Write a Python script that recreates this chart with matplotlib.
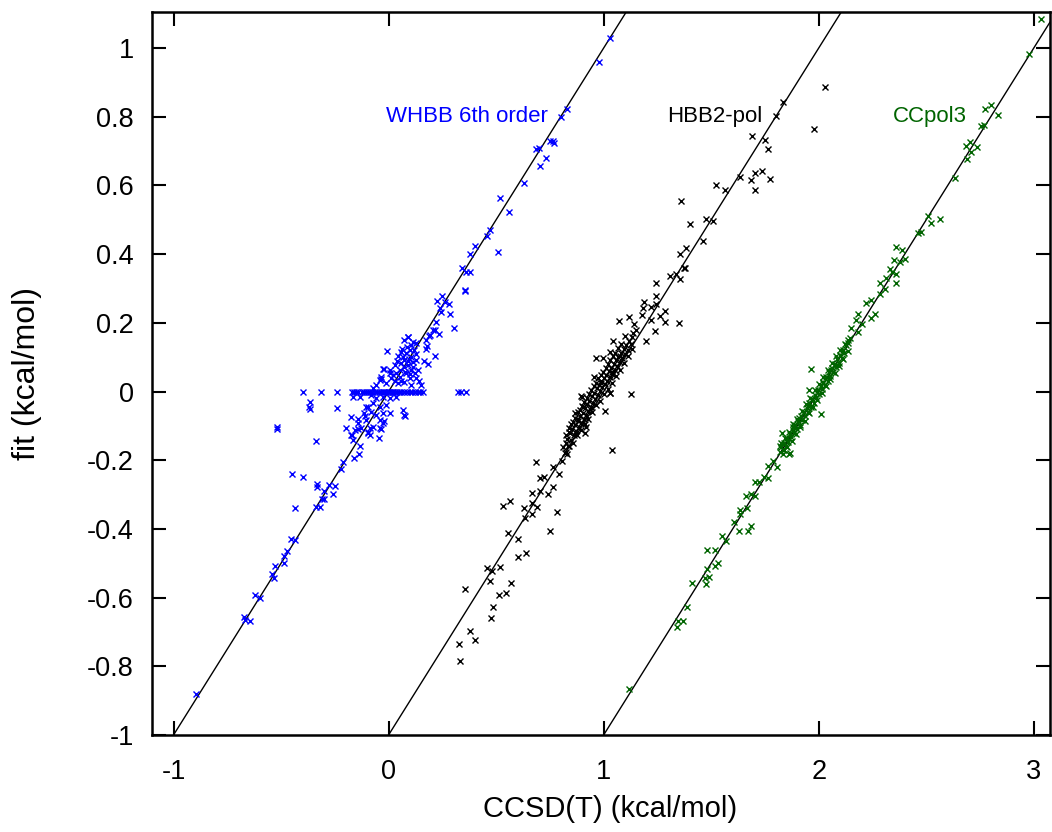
import numpy as np
import matplotlib
matplotlib.use('Agg')
import matplotlib.pyplot as plt

plt.rcParams['font.family'] = ['Liberation Sans', 'DejaVu Sans']

# (CCSD(T), fit) pairs in kcal/mol
whbb = np.array([
    (1.029, 1.030), (0.977, 0.958), (0.831, 0.822), (0.801, 0.799), (0.764, 0.730),
    (0.752, 0.730), (0.771, 0.725), (0.698, 0.710), (0.684, 0.706), (0.733, 0.679),
    (0.704, 0.656), (0.629, 0.607), (0.520, 0.564), (0.560, 0.523), (0.473, 0.469),
    (0.459, 0.454), (0.400, 0.423), (0.380, 0.399), (0.507, 0.405), (0.341, 0.359),
    (0.358, 0.347), (0.377, 0.347), (0.357, 0.295), (0.357, 0.292), (0.223, 0.264),
    (0.247, 0.278), (0.264, 0.260), (0.282, 0.254), (0.240, 0.244), (0.242, 0.232),
    (0.287, 0.226), (0.306, 0.185), (0.219, 0.202), (0.214, 0.179), (0.236, 0.167),
    (0.187, 0.162), (0.175, 0.150), (0.178, 0.132), (0.175, 0.125), (0.217, 0.104),
    (0.167, 0.090), (0.185, 0.079),
    (0.070, 0.150), (0.092, 0.158), (0.113, 0.143), (-0.009, 0.118), (0.098, 0.121),
    (0.127, 0.109), (0.067, 0.101), (-0.022, 0.066), (-0.036, 0.037), (0.005, 0.053),
    (0.059, 0.116), (0.082, 0.111), (0.106, 0.101), (0.074, 0.072), (0.028, 0.077),
    (0.020, 0.048), (0.051, 0.043), (-0.034, 0.043), (0.098, 0.038), (0.113, 0.072),
    (0.136, 0.063), (0.126, 0.092), (0.074, 0.092), (0.059, 0.082), (0.090, 0.077),
    (0.106, 0.063), (0.121, 0.053), (0.129, 0.038), (0.082, 0.053), (0.051, 0.063),
    (0.036, 0.053), (0.005, 0.063), (-0.027, 0.065), (0.012, 0.038), (-0.042, 0.033),
    (-0.011, 0.024), (0.043, 0.024), (0.074, 0.029), (0.106, 0.019), (-0.057, 0.019),
    (-0.073, 0.009), (0.090, 0.160), (0.129, 0.140), (0.191, 0.164), (0.206, 0.179),
    (0.085, 0.130), (0.095, 0.095), (0.063, 0.125), (0.115, 0.085), (0.040, 0.090),
    (0.078, 0.058), (0.100, 0.050), (0.030, 0.030), (0.060, 0.030), (0.140, 0.030),
    (0.150, 0.020), (0.118, 0.122), (0.102, 0.134), (0.088, 0.088), (0.046, 0.102),
    (-0.166, -0.015), (-0.135, -0.017), (-0.080, -0.010), (-0.057, -0.020), (-0.027, -0.015),
    (0.005, -0.020), (0.036, -0.015), (-0.073, -0.034), (-0.096, -0.046), (-0.042, -0.046),
    (-0.011, -0.039), (-0.080, -0.059), (-0.112, -0.063), (-0.057, -0.068), (-0.027, -0.063),
    (0.005, -0.063), (0.067, -0.054), (0.074, -0.068), (0.076, -0.070), (-0.173, -0.073),
    (-0.143, -0.081), (-0.143, -0.093), (-0.104, -0.083), (-0.042, -0.083), (-0.023, -0.087),
    (-0.027, -0.093), (-0.073, -0.102), (-0.096, -0.117), (-0.042, -0.107), (-0.197, -0.107),
    (-0.158, -0.112), (-0.127, -0.107), (-0.173, -0.127), (-0.088, -0.127), (-0.045, -0.136),
    (-0.166, -0.141), (-0.135, -0.159), (-0.138, -0.181), (-0.163, -0.193), (-0.104, -0.044),
    (-0.108, -0.070), (-0.088, -0.107), (-0.036, -0.110), (-0.169, -0.126), (-0.144, -0.110),
    (-0.096, -0.122),
    (-0.367, -0.031), (-0.371, -0.044), (-0.367, -0.051), (-0.239, -0.047), (-0.520, -0.102),
    (-0.520, -0.108), (-0.336, -0.144),
    (-0.213, -0.206), (-0.220, -0.226), (-0.448, -0.239), (-0.399, -0.249), (-0.332, -0.269),
    (-0.332, -0.279), (-0.279, -0.273), (-0.248, -0.276), (-0.298, -0.291), (-0.259, -0.298),
    (-0.310, -0.314), (-0.301, -0.314), (-0.336, -0.337), (-0.318, -0.337), (-0.437, -0.338),
    (-0.456, -0.429), (-0.434, -0.433), (-0.471, -0.463), (-0.487, -0.480), (-0.485, -0.498),
    (-0.529, -0.509), (-0.541, -0.532), (-0.533, -0.542), (-0.622, -0.593), (-0.597, -0.602),
    (-0.673, -0.656), (-0.667, -0.665), (-0.645, -0.667), (-0.894, -0.881),
])
# WHBB points sitting exactly on fit = 0
whbb_zero = [-0.399, -0.313, -0.239, -0.172, -0.160, -0.150, -0.140, -0.125, -0.115,
             -0.105, -0.095, -0.085, -0.075, -0.065, -0.055, -0.045, -0.035, -0.028,
             -0.020, -0.012, -0.005, 0.002, 0.008, 0.015, 0.022, 0.030, 0.040, 0.050,
             0.060, 0.072, 0.085, 0.098, 0.110, 0.122, 0.135, 0.147, 0.158,
             0.321, 0.338, 0.361]

hbb2 = np.array([
    (1.031, 0.886), (0.977, 0.763), (0.834, 0.844), (0.803, 0.802), (0.688, 0.745),
    (0.752, 0.732), (0.766, 0.707), (0.633, 0.626), (0.704, 0.636), (0.735, 0.642),
    (0.684, 0.617), (0.774, 0.620), (0.702, 0.587), (0.522, 0.602), (0.563, 0.586),
    (0.361, 0.554), (0.401, 0.487), (0.476, 0.503), (0.509, 0.495), (0.460, 0.439),
    (0.355, 0.401), (0.383, 0.417), (0.375, 0.360), (0.243, 0.315), (0.310, 0.336),
    (0.338, 0.342), (0.357, 0.328), (0.377, 0.360), (0.245, 0.279), (0.188, 0.261),
    (0.222, 0.247), (0.245, 0.254), (0.183, 0.242), (0.285, 0.234), (0.264, 0.221),
    (0.180, 0.223), (0.220, 0.208), (0.284, 0.201), (0.352, 0.199), (0.116, 0.216),
    (0.070, 0.205), (0.140, 0.196), (0.239, 0.177), (0.195, 0.148), (0.152, 0.179),
    (0.098, 0.162), (0.043, 0.148), (-0.037, 0.098), (-0.005, 0.098), (0.129, -0.007),
    (0.039, -0.169), (-0.045, 0.043), (-0.104, -0.013), (-0.135, -0.063), (-0.161, -0.105),
    (-0.174, -0.151), (0.005, -0.056), (0.028, -0.005), (0.028, 0.116), (0.136, 0.169),
    (-0.099, -0.015), (-0.096, -0.044), (-0.080, -0.102), (-0.088, -0.122), (0.031, -0.005),
    # dense core
    (-0.188, -0.162), (-0.181, -0.178), (-0.172, -0.139), (-0.166, -0.158), (-0.158, -0.121),
    (-0.151, -0.142), (-0.146, -0.109), (-0.139, -0.127), (-0.133, -0.098), (-0.127, -0.114),
    (-0.121, -0.086), (-0.116, -0.102), (-0.109, -0.071), (-0.104, -0.093), (-0.098, -0.062),
    (-0.093, -0.079), (-0.087, -0.048), (-0.081, -0.067), (-0.076, -0.037), (-0.071, -0.058),
    (-0.066, -0.027), (-0.059, -0.044), (-0.054, -0.013), (-0.049, -0.033), (-0.044, -0.004),
    (-0.038, -0.021), (-0.033, 0.009), (-0.027, -0.011), (-0.022, 0.018), (-0.016, 0.002),
    (-0.011, 0.031), (-0.006, 0.012), (0.001, 0.038), (0.006, 0.022), (0.012, 0.049),
    (0.017, 0.031), (0.023, 0.061), (0.029, 0.043), (0.034, 0.069), (0.041, 0.052),
    (0.046, 0.081), (0.052, 0.064), (0.057, 0.092), (0.063, 0.073), (0.069, 0.101),
    (0.074, 0.086), (0.081, 0.113), (0.087, 0.097), (0.093, 0.124), (0.099, 0.108),
    (0.106, 0.136), (0.112, 0.121), (0.119, 0.147), (0.127, 0.139), (0.134, 0.158),
    (-0.062, -0.051), (-0.014, 0.024), (0.038, 0.058), (0.076, 0.104), (-0.118, -0.079),
    (-0.175, -0.128), (-0.162, -0.117), (-0.150, -0.096), (-0.142, -0.088), (-0.131, -0.078),
    (-0.120, -0.061), (-0.111, -0.055), (-0.100, -0.041), (-0.090, -0.030), (-0.078, -0.019),
    (-0.068, -0.006), (-0.057, 0.004), (-0.046, 0.016), (-0.035, 0.026), (-0.024, 0.039),
    (-0.013, 0.047), (-0.002, 0.058), (0.009, 0.069), (0.020, 0.081), (0.031, 0.091),
    (0.044, 0.104), (0.055, 0.113), (0.066, 0.126), (0.079, 0.137),
    (-0.160, -0.160), (-0.143, -0.150), (-0.125, -0.128), (-0.107, -0.113), (-0.089, -0.096),
    (-0.072, -0.080), (-0.052, -0.061), (-0.034, -0.040), (-0.016, -0.027), (0.003, -0.008),
    (0.021, 0.006), (0.040, 0.025), (0.058, 0.046), (0.077, 0.063), (0.095, 0.083),
    (0.114, 0.104), (0.131, 0.124),
    # lower tail
    (-0.177, -0.175), (-0.171, -0.183), (-0.316, -0.204), (-0.236, -0.219), (-0.194, -0.201),
    (-0.208, -0.241), (-0.298, -0.253), (-0.279, -0.250), (-0.332, -0.295), (-0.294, -0.289),
    (-0.236, -0.277), (-0.257, -0.298), (-0.468, -0.332), (-0.436, -0.320), (-0.372, -0.338),
    (-0.333, -0.326), (-0.312, -0.337), (-0.335, -0.357), (-0.366, -0.369), (-0.217, -0.350),
    (-0.248, -0.406), (-0.445, -0.411), (-0.399, -0.430), (-0.397, -0.481), (-0.363, -0.469),
    (-0.543, -0.515), (-0.519, -0.522), (-0.484, -0.510), (-0.530, -0.552), (-0.433, -0.558),
    (-0.643, -0.576), (-0.487, -0.592), (-0.453, -0.588), (-0.514, -0.626), (-0.523, -0.660),
    (-0.622, -0.697), (-0.671, -0.736), (-0.597, -0.723), (-0.668, -0.784),
])

ccpol3 = np.array([
    (1.033, 1.084), (0.978, 0.982), (0.772, 0.822), (0.803, 0.834), (0.834, 0.805),
    (0.753, 0.774), (0.767, 0.776), (0.684, 0.716), (0.702, 0.727), (0.736, 0.713),
    (0.706, 0.696), (0.690, 0.676), (0.633, 0.621), (0.508, 0.511), (0.524, 0.491),
    (0.563, 0.501), (0.462, 0.462), (0.477, 0.465), (0.361, 0.420), (0.385, 0.412),
    (0.350, 0.383), (0.377, 0.378), (0.403, 0.386), (0.333, 0.356), (0.341, 0.349),
    (0.361, 0.342), (0.358, 0.315), (0.284, 0.315), (0.284, 0.284), (0.222, 0.259),
    (0.245, 0.266), (0.264, 0.226), (0.245, 0.213), (0.183, 0.225), (0.175, 0.208),
    (0.183, 0.172), (0.152, 0.184), (0.134, 0.150), (-0.037, 0.066), (0.009, -0.066),
    (-0.047, 0.004), (-0.135, -0.180), (-0.170, -0.122), (-0.173, -0.151), (-0.140, -0.183),
    (-0.161, -0.170), (0.306, 0.298), (0.312, 0.331), (0.203, 0.196), (0.121, 0.138),
    # dense core
    (-0.182, -0.176), (-0.176, -0.162), (-0.168, -0.171), (-0.161, -0.149), (-0.154, -0.158),
    (-0.147, -0.136), (-0.141, -0.147), (-0.134, -0.124), (-0.128, -0.133), (-0.121, -0.111),
    (-0.115, -0.121), (-0.108, -0.098), (-0.102, -0.109), (-0.095, -0.086), (-0.089, -0.097),
    (-0.082, -0.072), (-0.076, -0.084), (-0.069, -0.061), (-0.063, -0.071), (-0.056, -0.047),
    (-0.050, -0.059), (-0.043, -0.034), (-0.037, -0.046), (-0.030, -0.022), (-0.024, -0.032),
    (-0.017, -0.009), (-0.011, -0.019), (-0.004, 0.004), (0.002, -0.006), (0.009, 0.017),
    (0.015, 0.007), (0.022, 0.029), (0.028, 0.020), (0.035, 0.043), (0.041, 0.032),
    (0.048, 0.056), (0.054, 0.045), (0.061, 0.068), (0.067, 0.058), (0.074, 0.081),
    (0.080, 0.071), (0.087, 0.094), (0.093, 0.084), (0.100, 0.107), (0.106, 0.097),
    (0.113, 0.121), (0.119, 0.111), (0.126, 0.134), (0.138, 0.142), (0.144, 0.156),
    (-0.093, -0.078), (-0.052, -0.042), (0.018, 0.024), (0.058, 0.064), (-0.121, -0.102),
    (-0.178, -0.158), (-0.159, -0.135), (-0.139, -0.118), (-0.118, -0.094), (-0.099, -0.079),
    (-0.079, -0.058), (-0.058, -0.036), (-0.039, -0.018), (-0.019, 0.003), (0.001, 0.022),
    (0.021, 0.041), (0.041, 0.062), (0.062, 0.082), (0.081, 0.103), (0.101, 0.122),
    (-0.165, -0.183), (-0.146, -0.162), (-0.126, -0.144), (-0.106, -0.124), (-0.086, -0.104),
    (-0.066, -0.085), (-0.046, -0.063), (-0.026, -0.044), (-0.006, -0.025), (0.014, -0.004),
    (0.034, 0.015), (0.054, 0.036), (0.074, 0.055), (0.094, 0.074), (0.114, 0.096),
    (0.134, 0.117),
    # lower tail
    (-0.213, -0.202), (-0.236, -0.216), (-0.192, -0.219), (-0.255, -0.248), (-0.236, -0.251),
    (-0.296, -0.263), (-0.278, -0.263), (-0.336, -0.304), (-0.313, -0.299), (-0.296, -0.304),
    (-0.333, -0.340), (-0.364, -0.345), (-0.364, -0.357), (-0.395, -0.381), (-0.370, -0.405),
    (-0.328, -0.405), (-0.313, -0.392), (-0.450, -0.420), (-0.429, -0.435), (-0.518, -0.461),
    (-0.484, -0.461), (-0.521, -0.517), (-0.484, -0.507), (-0.468, -0.500), (-0.531, -0.544),
    (-0.508, -0.539), (-0.523, -0.561), (-0.588, -0.557), (-0.613, -0.626), (-0.656, -0.667),
    (-0.633, -0.668), (-0.660, -0.686), (-0.882, -0.867),
])

labels = ['WHBB 6th order', 'HBB2-pol', 'CCpol3']
colors = ['#0000ff', '#000000', '#006400']
offsets = [0, 1, 2]

fig = plt.figure(figsize=(10.52, 8.32), dpi=100)
ax = fig.add_axes([0.1445, 0.1166, 0.8535, 0.869])
xlim = (-1.1, 3.075)
ylim = (-1.0, 1.105)

# reference lines fit = CCSD(T), shifted by 1 per surface
for off in offsets:
    xs = np.array(xlim)
    ax.plot(xs, xs - off, color='black', lw=1.0, zorder=1)

mk = dict(ls='none', marker='x', ms=4.0, mew=1.0, zorder=2)
ax.plot(whbb[:, 0], whbb[:, 1], color=colors[0], **mk)
ax.plot(np.array(whbb_zero), np.zeros(len(whbb_zero)), color=colors[0], **mk)
ax.plot(hbb2[:, 0] + offsets[1], hbb2[:, 1], color=colors[1], **mk)
ax.plot(ccpol3[:, 0] + offsets[2], ccpol3[:, 1], color=colors[2], **mk)

ax.text(-0.01, 0.80, labels[0], color=colors[0], fontsize=16, va='center', ha='left')
ax.text(1.293, 0.80, labels[1], color=colors[1], fontsize=16, va='center', ha='left')
ax.text(2.344, 0.80, labels[2], color=colors[2], fontsize=16, va='center', ha='left')

ax.set_xlim(*xlim)
ax.set_ylim(*ylim)
ax.set_xticks([-1, 0, 1, 2, 3])
ax.set_yticks(np.arange(-1.0, 1.01, 0.2))
ax.set_yticklabels(['-1', '-0.8', '-0.6', '-0.4', '-0.2', '0', '0.2', '0.4', '0.6', '0.8', '1'])
ax.set_xticklabels(['-1', '0', '1', '2', '3'])
ax.tick_params(direction='in', length=10, width=1.5, labelsize=19.5, top=True, right=True)
ax.tick_params(axis='x', pad=17)
ax.tick_params(axis='y', pad=13)
for s in ax.spines.values():
    s.set_linewidth(1.8)

ax.set_xlabel('CCSD(T) (kcal/mol)', fontsize=21, va='top')
ax.xaxis.set_label_coords(0.51, -0.083)
ax.set_ylabel('fit (kcal/mol)', fontsize=23)
ax.yaxis.set_label_coords(-0.122, 0.5)

fig.savefig('out.png', dpi=100)
